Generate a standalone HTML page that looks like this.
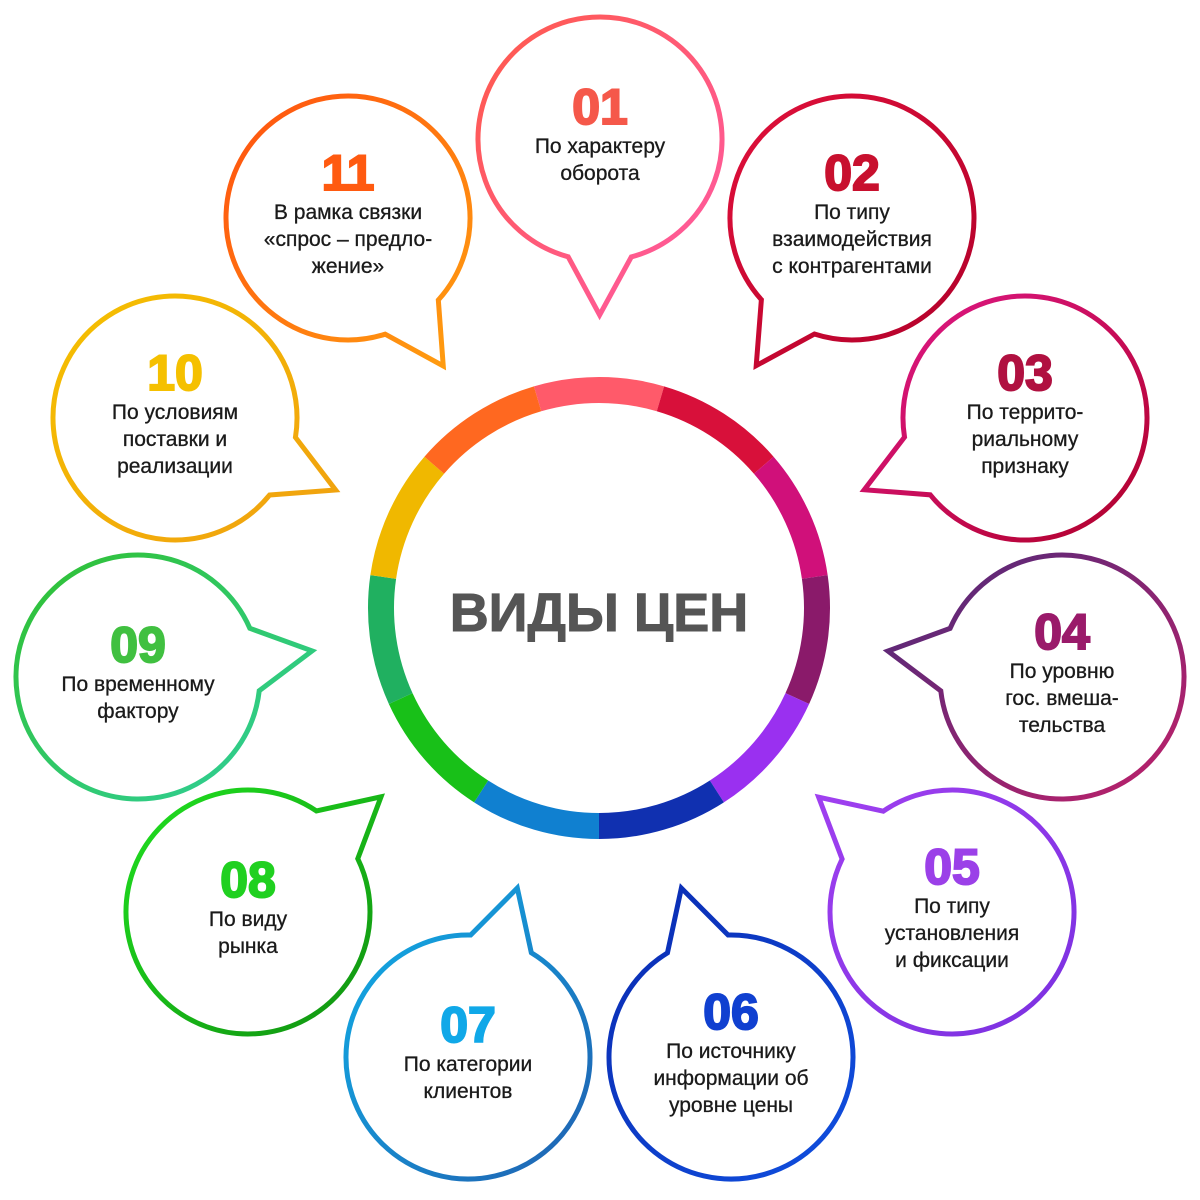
<!DOCTYPE html>
<html><head><meta charset="utf-8">
<style>
html,body{margin:0;padding:0;background:#fff;}
#wrap{position:relative;width:1200px;height:1200px;overflow:hidden;font-family:"Liberation Sans",sans-serif;}
svg{position:absolute;left:0;top:0;}
.b{position:absolute;width:244px;height:244px;display:flex;flex-direction:column;align-items:center;justify-content:center;text-align:center;}
.n{font-weight:900;font-size:50px;line-height:52px;margin-bottom:0px;margin-top:-10px;letter-spacing:0px;-webkit-text-stroke:2px currentColor;}
.t{font-size:21px;line-height:27px;color:#1a1a1a;-webkit-text-stroke:0.3px #1a1a1a;}
#c{position:absolute;left:399px;top:578px;width:400px;text-align:center;font-weight:bold;font-size:54px;line-height:70px;color:#555;letter-spacing:0px;-webkit-text-stroke:1px #555;}
</style></head><body>
<div id="wrap">
<svg id="s" width="1200" height="1200" viewBox="0 0 1200 1200"></svg>
<div id="c">ВИДЫ ЦЕН</div>
<div class="b" style="left:478px;top:17px"><div class="n" style="color:#f5584a">01</div><div class="t">По характеру<br>оборота</div></div>
<div class="b" style="left:730px;top:96px"><div class="n" style="color:#c8102e">02</div><div class="t">По типу<br>взаимодействия<br>с контрагентами</div></div>
<div class="b" style="left:903px;top:296px"><div class="n" style="color:#b01040">03</div><div class="t">По террито-<br>риальному<br>признаку</div></div>
<div class="b" style="left:940px;top:555px"><div class="n" style="color:#9a1a6a">04</div><div class="t">По уровню<br>гос. вмеша-<br>тельства</div></div>
<div class="b" style="left:830px;top:790px"><div class="n" style="color:#9b40e8">05</div><div class="t">По типу<br>установления<br>и фиксации</div></div>
<div class="b" style="left:609px;top:935px"><div class="n" style="color:#1040d0">06</div><div class="t">По источнику<br>информации об<br>уровне цены</div></div>
<div class="b" style="left:346px;top:935px"><div class="n" style="color:#10a8e8">07</div><div class="t">По категории<br>клиентов</div></div>
<div class="b" style="left:126px;top:790px"><div class="n" style="color:#20d020">08</div><div class="t">По виду<br>рынка</div></div>
<div class="b" style="left:16px;top:555px"><div class="n" style="color:#40c040">09</div><div class="t">По временному<br>фактору</div></div>
<div class="b" style="left:53px;top:296px"><div class="n" style="color:#f5c000">10</div><div class="t">По условиям<br>поставки и<br>реализации</div></div>
<div class="b" style="left:226px;top:96px"><div class="n" style="color:#ff5a10">11</div><div class="t">В рамка связки<br>«спрос – предло-<br>жение»</div></div>
</div>
<script>
var s=document.getElementById('s'),NS='http://www.w3.org/2000/svg',CX=599,CY=608,R=122;
var B=[[600,139,'#ff5a4a','#ff5aa8'],[852,218,'#e0103a','#b0002a'],[1025,418,'#e01a8a','#b0002a'],[1062,677,'#4a2a7a','#c0206a'],[952,912,'#a040f0','#7a30e0'],[731,1057,'#0a2ab0','#1050e0'],[468,1057,'#10b0e8','#2060b0'],[248,912,'#20e020','#109010'],[138,677,'#30c030','#30d0a0'],[175,418,'#f5c000','#f0a010'],[348,218,'#ff5010','#ffa010']];
var defs=document.createElementNS(NS,'defs');s.appendChild(defs);
var h='';
B.forEach(function(b,i){
 var a=Math.atan2(CY-b[1],CX-b[0]),d=15*Math.PI/180;
 var x1=b[0]+R*Math.cos(a-d),y1=b[1]+R*Math.sin(a-d),x2=b[0]+R*Math.cos(a+d),y2=b[1]+R*Math.sin(a+d);
 var tx=b[0]+176*Math.cos(a),ty=b[1]+176*Math.sin(a);
 h+='<linearGradient id="g'+i+'" x1="0" y1="0" x2="1" y2="1"><stop offset="0" stop-color="'+b[2]+'"/><stop offset="1" stop-color="'+b[3]+'"/></linearGradient>';
 s.insertAdjacentHTML('beforeend','<path d="M'+x2+' '+y2+' L'+tx+' '+ty+' L'+x1+' '+y1+' A'+R+' '+R+' 0 1 0 '+x2+' '+y2+' Z" fill="#fff" stroke="url(#g'+i+')" stroke-width="5" stroke-linejoin="miter"/>');
});
defs.innerHTML=h;
var cols=['#ff5a6a','#d8103a','#d0107a','#8a1a6a','#9a30f0','#1030b0','#1080d0','#18c018','#20b060','#f0b800','#ff6820'];
var RR=218;
for(var i=0;i<11;i++){
 var a0=(-90-16.36+i*32.727)*Math.PI/180,a1=a0+32.727*Math.PI/180;
 var p='M'+(CX+RR*Math.cos(a0))+' '+(CY+RR*Math.sin(a0))+' A'+RR+' '+RR+' 0 0 1 '+(CX+RR*Math.cos(a1))+' '+(CY+RR*Math.sin(a1));
 s.insertAdjacentHTML('beforeend','<path d="'+p+'" fill="none" stroke="'+cols[i]+'" stroke-width="26"/>');
}
</script>
</body></html>
